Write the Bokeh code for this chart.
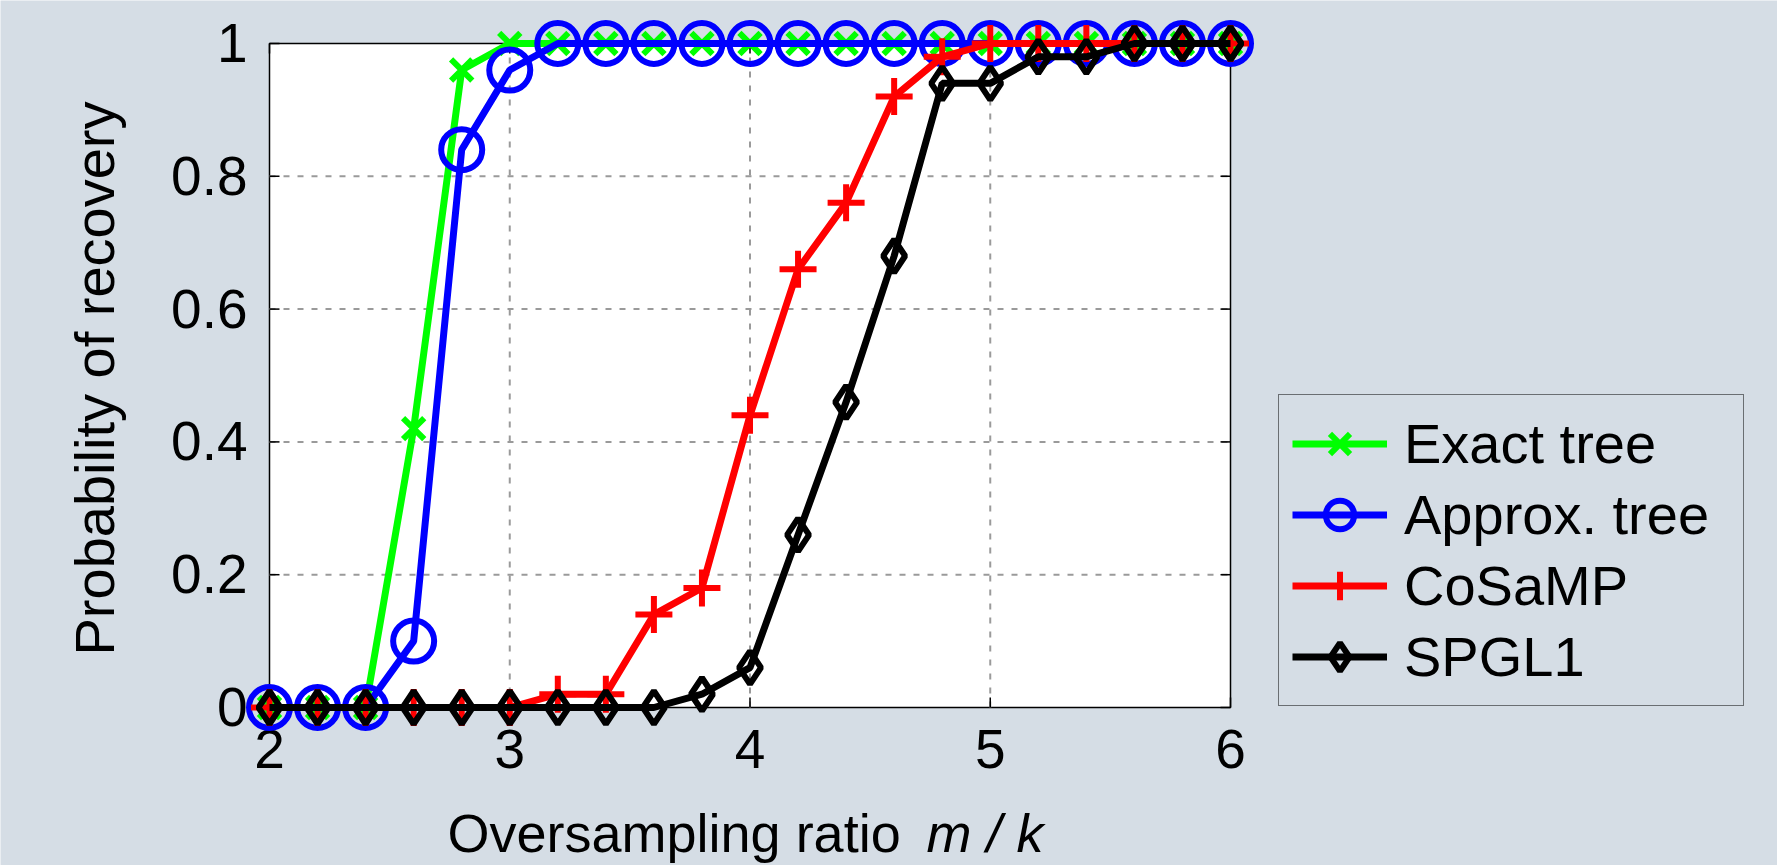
import math
from bokeh.plotting import figure
from bokeh.models import Range1d, Legend, LegendItem
from bokeh.core.properties import value
from bokeh.embed import file_html
from bokeh.resources import INLINE

# ---- data ----
ratio = [2.0, 2.2, 2.4, 2.6, 2.8, 3.0, 3.2, 3.4, 3.6, 3.8, 4.0,
         4.2, 4.4, 4.6, 4.8, 5.0, 5.2, 5.4, 5.6, 5.8, 6.0]
exact_tree = [0, 0, 0, 0.42, 0.96, 1, 1, 1, 1, 1, 1,
              1, 1, 1, 1, 1, 1, 1, 1, 1, 1]
approx_tree = [0, 0, 0, 0.10, 0.84, 0.96, 1, 1, 1, 1, 1,
               1, 1, 1, 1, 1, 1, 1, 1, 1, 1]
cosamp = [0, 0, 0, 0, 0, 0, 0.02, 0.02, 0.14, 0.18, 0.44,
          0.66, 0.76, 0.92, 0.98, 1, 1, 1, 1, 1, 1]
spgl1 = [0, 0, 0, 0, 0, 0, 0, 0, 0, 0.02, 0.06,
         0.26, 0.46, 0.68, 0.94, 0.94, 0.98, 0.98, 1, 1, 1]

x_ticks = [2, 3, 4, 5, 6]
y_ticks = [0, 0.2, 0.4, 0.6, 0.8, 1]
x_tick_labels = ["2", "3", "4", "5", "6"]
y_tick_labels = ["0", "0.2", "0.4", "0.6", "0.8", "1"]
series_names = ["Exact tree", "Approx. tree", "CoSaMP", "SPGL1"]
x_label_main = "Oversampling ratio"
x_label_math = "m / k"
y_label = "Probability of recovery"

# ---- layout (pixels of the 1777x865 canvas) ----
W, H = 1777, 865
BOX_L, BOX_R, BOX_T, BOX_B = 269, 1230, 43, 707
BG = "#d5dde5"
FONT = value("Liberation Sans")
SHIFT = 20  # text anchors sit about this far above the glyph baseline

x0, x1 = x_ticks[0], x_ticks[-1]
y0, y1 = y_ticks[0], y_ticks[-1]
PXX = (BOX_R - BOX_L) / (x1 - x0)
PXY = (BOX_B - BOX_T) / (y1 - y0)


def dx(px):
    return px / PXX


def dy(px):
    return px / PXY


p = figure(width=W, height=H, output_backend="svg", toolbar_location=None,
           x_range=Range1d(x0 - dx(BOX_L), x0 + dx(W - BOX_L)),
           y_range=Range1d(y0 - dy(H - BOX_B), y0 + dy(BOX_B)),
           x_axis_location=None, y_axis_location=None, min_border=0)
p.background_fill_color = BG
p.border_fill_color = BG
p.outline_line_color = None
p.grid.visible = False

# white axes box
p.quad(left=[x0], right=[x1], bottom=[y0], top=[y1],
       fill_color="white", line_color="black", line_width=1.5)

# dashed grid
gx = x_ticks[1:-1]
gy = y_ticks[1:-1]
p.segment(x0=gx, x1=gx, y0=[y0] * len(gx), y1=[y1] * len(gx),
          line_color="#9a9a9a", line_width=2, line_dash="6 8")
p.segment(x0=[x0] * len(gy), x1=[x1] * len(gy), y0=gy, y1=gy,
          line_color="#9a9a9a", line_width=2, line_dash="6 8")

# inward tick marks on the four sides
TK = dict(length=10, length_units="screen", line_color="black", line_width=1.5)
p.ray(x=x_ticks, y=[y0] * len(x_ticks), angle=math.pi / 2, **TK)
p.ray(x=x_ticks, y=[y1] * len(x_ticks), angle=-math.pi / 2, **TK)
p.ray(x=[x0] * len(y_ticks), y=y_ticks, angle=0, **TK)
p.ray(x=[x1] * len(y_ticks), y=y_ticks, angle=math.pi, **TK)

# tick labels
p.text(x=x_ticks, y=[y0 - dy(61 - SHIFT)] * len(x_ticks), text=x_tick_labels,
       text_font=FONT, text_font_size="55px", text_color="black",
       text_align="center", text_baseline="alphabetic")
p.text(x=[x0 - dx(22)] * len(y_ticks), y=[t - dy(19.5 - SHIFT) for t in y_ticks],
       text=y_tick_labels, text_font=FONT, text_font_size="55px",
       text_color="black", text_align="right", text_baseline="alphabetic")

# axis titles
p.text(x=[x0 + dx(447 - BOX_L)], y=[y0 - dy(852 - BOX_B - SHIFT)], text=[x_label_main],
       text_font=FONT, text_font_size="54px", text_color="black",
       text_align="left", text_baseline="alphabetic")
p.text(x=[x0 + dx(926 - BOX_L)], y=[y0 - dy(852 - BOX_B - SHIFT)], text=[x_label_math],
       text_font=FONT, text_font_size="54px", text_font_style="italic",
       text_color="black", text_align="left", text_baseline="alphabetic")
p.text(x=[x0 - dx(BOX_L - 114 + SHIFT)], y=[y0 + dy(BOX_B - 378)], text=[y_label],
       text_font=FONT, text_font_size="56px", text_color="black",
       text_align="center", text_baseline="alphabetic", angle=math.pi / 2)

# series
styles = [
    (exact_tree, "#00ff00", "x", 30),
    (approx_tree, "#0000ff", "circle", 41),
    (cosamp, "#ff0000", "cross", 37),
    (spgl1, "#000000", "diamond", 33),
]
items = []
for name, (vals, col, mk, sz) in zip(series_names, styles):
    lr = p.line(ratio, vals, line_color=col, line_width=7)
    sr = p.scatter(ratio, vals, marker=mk, size=sz, line_color=col,
                   line_width=6, fill_color=None)
    items.append(LegendItem(label=name, renderers=[lr, sr]))

legend = Legend(items=items, location=(1278, H - 706),
                background_fill_color=BG, background_fill_alpha=1.0,
                border_line_color="black", border_line_width=1.5,
                label_text_font="Liberation Sans", label_text_font_size="56px",
                label_text_color="black",
                glyph_width=95, glyph_height=71, spacing=0,
                padding=13, margin=0, label_standoff=17, label_width=326)
p.add_layout(legend, "center")

open("out.html", "w").write(file_html(p, INLINE))
